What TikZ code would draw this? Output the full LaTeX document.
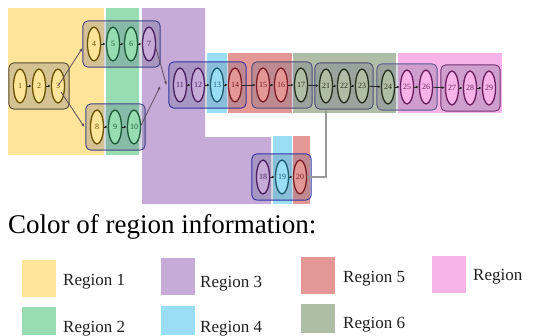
\documentclass[tikz,border=0pt]{standalone}
\usepackage{fontspec}
\setmainfont{Liberation Serif}
\usetikzlibrary{shapes.geometric,fit,arrows.meta,calc}
\pgfdeclarelayer{regions}
\pgfdeclarelayer{boxes}
\pgfsetlayers{regions,boxes,main}
\definecolor{rA}{HTML}{FFE49A}
\definecolor{rB}{HTML}{98DCB4}
\definecolor{rC}{HTML}{C6AAD8}
\definecolor{rD}{HTML}{9ADEF6}
\definecolor{rE}{HTML}{E49896}
\definecolor{rF}{HTML}{AEBDA6}
\definecolor{rG}{HTML}{F8B4E8}
\definecolor{dA}{HTML}{6B5200}
\definecolor{dB}{HTML}{1D5A38}
\definecolor{dC}{HTML}{4A2060}
\definecolor{dD}{HTML}{1E5A6E}
\definecolor{dE}{HTML}{7A1E28}
\definecolor{dF}{HTML}{26301F}
\definecolor{dG}{HTML}{6A1E5E}
\definecolor{boxfill}{HTML}{505A80}
\definecolor{diag}{HTML}{5E4E5E}
\begin{document}
\begin{tikzpicture}[x=1pt,y=-1pt,
  nd/.style={ellipse, minimum width=13pt, minimum height=34pt, inner sep=0pt,
             line width=1.3pt, font=\fontsize{8}{8}\selectfont},
  yel/.style={nd, fill=rA, draw=dA, text=dA},
  grn/.style={nd, fill=rB, draw=dB, text=dB},
  pur/.style={nd, fill=rC, draw=dC, text=dC},
  cya/.style={nd, fill=rD, draw=dD, text=dD},
  red/.style={nd, fill=rE, draw=dE, text=dE},
  gry/.style={nd, fill=rF, draw=dF, text=dF},
  pnk/.style={nd, fill=rG, draw=dG, text=dG},
  grp/.style={rounded corners=5pt, inner xsep=4pt, inner ysep=5.5pt,
              fill=boxfill, fill opacity=0.24, line width=0.9pt},
  sarr/.style={-{Latex[length=3pt,width=2.6pt]}, line width=0.8pt, draw=black!85},
  darr/.style={-{Latex[length=3.5pt,width=3pt]}, line width=0.8pt, draw=diag},
  gline/.style={-{Latex[length=3pt,width=3pt]}, line width=1.4pt, draw=black!40},
  sw/.style={minimum width=34pt, minimum height=37pt, inner sep=0pt},
  lg/.style={anchor=base west, inner sep=0pt, font=\fontsize{17}{17}\selectfont, text=black!88}
]
\useasboundingbox (0,0) rectangle (560,335);

% regions
\begin{pgfonlayer}{regions}
\fill[rA] (8,8) rectangle (104,155);
\fill[rB] (106,8) rectangle (139,155);
\fill[rC] (142,8) -- (205,8) -- (205,137) -- (271,137) -- (271,204) -- (142,204) -- cycle;
\fill[rD] (207,53) rectangle (227,113);
\fill[rE] (228,53) rectangle (292,113);
\fill[rF] (293,53) rectangle (396,113);
\fill[rG] (398,53) rectangle (502,113);
\fill[rD] (273,136) rectangle (292,204);
\fill[rE] (293,136) rectangle (310,204);
\end{pgfonlayer}

% nodes
\node[yel] (n1) at (20,86) {1};
\node[yel] (n2) at (39,86) {2};
\node[yel] (n3) at (58,86) {3};
\node[yel] (n4) at (94,44) {4};
\node[grn] (n5) at (113,44) {5};
\node[grn] (n6) at (131,44) {6};
\node[pur] (n7) at (149,44) {7};
\node[yel] (n8) at (97,127) {8};
\node[grn] (n9) at (115,127) {9};
\node[grn] (n10) at (134,127) {10};
\node[pur] (n11) at (180,85) {11};
\node[pur] (n12) at (198,85) {12};
\node[cya] (n13) at (217,85) {13};
\node[red] (n14) at (235,85) {14};
\node[red] (n15) at (263,85) {15};
\node[red] (n16) at (281,85) {16};
\node[gry] (n17) at (301,85) {17};
\node[gry] (n21) at (326,86) {21};
\node[gry] (n22) at (344,86) {22};
\node[gry] (n23) at (362,86) {23};
\node[gry] (n24) at (388,87) {24};
\node[pnk] (n25) at (407,87) {25};
\node[pnk] (n26) at (426,87) {26};
\node[pnk] (n27) at (452,88) {27};
\node[pnk] (n28) at (470,88) {28};
\node[pnk] (n29) at (489,88) {29};
\node[pur] (n18) at (263,177) {18};
\node[cya] (n19) at (282,177) {19};
\node[red] (n20) at (300,177) {20};

% group boxes
\begin{pgfonlayer}{boxes}
\node[grp, draw=black!45!rA!60!black, fit=(n1)(n3)] (g1) {};
\node[grp, draw=blue!35!black!75, fit=(n4)(n7)] (g2) {};
\node[grp, draw=blue!35!black!75, fit=(n8)(n10)] (g3) {};
\node[grp, draw=blue!55!black!80, fit=(n11)(n14)] (g4) {};
\node[grp, draw=blue!25!black!70, fit=(n15)(n17)] (g5) {};
\node[grp, draw=blue!25!black!70, fit=(n21)(n23)] (g6) {};
\node[grp, draw=blue!30!black!65, fit=(n24)(n26)] (g7) {};
\node[grp, draw=violet!60!black!80, fit=(n27)(n29)] (g8) {};
\node[grp, draw=blue!55!black!80, fit=(n18)(n20)] (g9) {};
\end{pgfonlayer}

% arrows inside groups and between groups
\foreach \a/\b in {n1/n2,n2/n3,n4/n5,n5/n6,n6/n7,n8/n9,n9/n10,n11/n12,n12/n13,n13/n14,
                   n14/n15,n15/n16,n16/n17,n17/n21,n21/n22,n22/n23,n23/n24,n24/n25,
                   n25/n26,n26/n27,n27/n28,n28/n29,n18/n19,n19/n20}
  \draw[sarr] (\a) -- (\b);

% diagonal connectors
\coordinate (m10) at ($(g4.west)+(-8,1)$);
\draw[darr] (n3.center) -- ([yshift=-4pt]g2.west);
\draw[darr] ([xshift=3pt,yshift=-6pt]n3.center) -- ([xshift=-1pt]g3.west);
\draw[darr] ([yshift=-5pt]n7.east) -- ([xshift=-2pt]g4.west);
\draw[darr] ([yshift=2pt]n10.east) -- (m10);

% 20 -> 21
\draw[gline] (n20.east) -| (g6.south -| n21);

% legend
\node[anchor=base west, inner sep=0pt, font=\fontsize{27}{27}\selectfont] (title) at (8,233) {Color of region information:};
\node[sw, fill=rA] (s1) at (39,278) {};
\node[lg] (t1) at (63,285) {Region 1};
\node[sw, fill=rC] (s3) at (177.5,276.5) {};
\node[lg] (t3) at (200,287) {Region 3};
\node[sw, fill=rE] (s5) at (318,275.5) {};
\node[lg] (t5) at (343,282) {Region 5};
\node[sw, fill=rG] (s7) at (449,274) {};
\node[lg] (t7) at (473,280) {Region};
\node[sw, fill=rB, minimum height=28pt] (s2) at (39,321) {};
\node[lg] (t2) at (63,332) {Region 2};
\node[sw, fill=rD, minimum height=29pt] (s4) at (177.5,320.5) {};
\node[lg] (t4) at (200,332) {Region 4};
\node[sw, fill=rF, minimum height=29pt] (s6) at (318,318.5) {};
\node[lg] (t6) at (343,328) {Region 6};
\end{tikzpicture}
\end{document}
